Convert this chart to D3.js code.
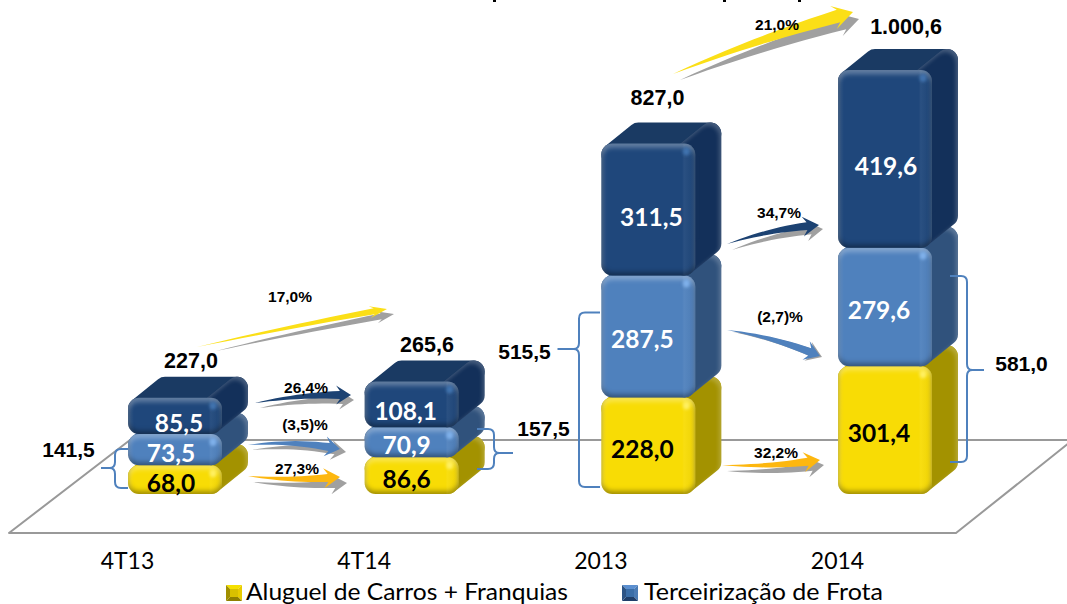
<!DOCTYPE html>
<html><head><meta charset="utf-8">
<style>html,body{margin:0;padding:0;background:#fff;overflow:hidden}svg{display:block}</style>
<script src="https://cdn.jsdelivr.net/npm/d3@7/dist/d3.min.js"></script>
</head><body><svg id="c" width="1067" height="604"></svg>
<script>
const categories = ["4T13","4T14","2013","2014"];
const aluguel = [68.0,86.6,228.0,301.4];
const terceirizacao = [73.5,70.9,287.5,279.6];
const frotaEscuro = [85.5,108.1,311.5,419.6];
const totals = [227.0,265.6,827.0,1000.6];
const groupTotals = [141.5,157.5,515.5,581.0];
const growthTotal = ["17,0%","21,0%"];
const growthEscuro = ["26,4%","34,7%"];
const growthMedio = ["(3,5)%","(2,7)%"];
const growthAluguel = ["27,3%","32,2%"];
const legendLabels = ["Aluguel de Carros + Franquias","Terceirização de Frota"];

const svg = d3.select("#c");
const W=1067;
const x = d3.scalePoint().domain(categories).range([128,838]);
const y = d3.scaleLinear().domain([0,1000.6]).range([494,70]);
const fmt = d3.formatLocale({decimal:",",thousands:".",grouping:[3],currency:["",""]}).format(",.1f");
const BODY="'Lato',sans-serif", HEAD="'Liberation Sans',Arial,sans-serif";

const defs = svg.append("defs");
defs.html(`
<filter id="bevel" filterUnits="userSpaceOnUse" x="0" y="0" width="1067" height="604" color-interpolation-filters="sRGB">
 <feGaussianBlur in="SourceAlpha" stdDeviation="2.4" result="b"/>
 <feOffset in="b" dy="3.5" result="o1"/>
 <feComposite in="SourceAlpha" in2="o1" operator="out" result="e1"/>
 <feFlood flood-color="#fff" flood-opacity=".32"/><feComposite in2="e1" operator="in" result="hi"/>
 <feOffset in="b" dy="-3.5" result="o2"/>
 <feComposite in="SourceAlpha" in2="o2" operator="out" result="e2"/>
 <feFlood flood-color="#000" flood-opacity=".36"/><feComposite in2="e2" operator="in" result="lo"/>
 <feMerge><feMergeNode in="SourceGraphic"/><feMergeNode in="hi"/><feMergeNode in="lo"/></feMerge>
</filter>
<filter id="soft" filterUnits="userSpaceOnUse" x="0" y="0" width="1067" height="604"><feGaussianBlur stdDeviation="1.6"/></filter>
<filter id="edge" filterUnits="userSpaceOnUse" x="0" y="0" width="1067" height="604" color-interpolation-filters="sRGB">
 <feGaussianBlur in="SourceAlpha" stdDeviation="2" result="b"/>
 <feOffset in="b" dx="-2" dy="3" result="o1"/>
 <feComposite in="SourceAlpha" in2="o1" operator="out" result="e1"/>
 <feFlood flood-color="#fff" flood-opacity=".22"/><feComposite in2="e1" operator="in" result="hi"/>
 <feMerge><feMergeNode in="SourceGraphic"/><feMergeNode in="hi"/></feMerge>
</filter>
<linearGradient id="band"><stop offset="0" stop-color="#fff" stop-opacity=".08"/><stop offset=".07" stop-color="#fff" stop-opacity="0"/><stop offset=".86" stop-color="#fff" stop-opacity="0"/><stop offset=".88" stop-color="#fff" stop-opacity=".05"/><stop offset="1" stop-color="#000" stop-opacity=".04"/></linearGradient>
`);

// floor
svg.append("path").attr("fill","none").attr("stroke","#999").attr("stroke-width",2)
  .attr("stroke-linejoin","round")
  .attr("d",d3.line()([[W+2,440],[130,440],[9,533],[956,533],[W+2,443]]));

// top clipped title remnants
svg.append("g").attr("stroke","#000").attr("stroke-width",2)
  .selectAll("line").data([493,723,798]).join("line")
  .attr("x1",d=>d).attr("x2",d=>d+3).attr("y1",1).attr("y2",1);

// stacked bars
const rows = categories.map((c,i)=>({c,aluguel:aluguel[i],terceirizacao:terceirizacao[i],frotaEscuro:frotaEscuro[i]}));
const stack = d3.stack().keys(["aluguel","terceirizacao","frotaEscuro"])(rows);
const palette = {
 aluguel:{front:"#f8dc05",side:"#a39200",top:"#c8b000",spot:"#fff060",text:"#000"},
 terceirizacao:{front:"#4f81bd",side:"#30527c",top:"#3c6596",spot:"#7fb0ea",text:"#fff"},
 frotaEscuro:{front:"#1f477b",side:"#13305a",top:"#1a3a63",spot:"#3f72ae",text:"#fff"}
};
const w=94,d=26,dy=21,r=11;
const poly=d3.line().curve(d3.curveLinearClosed);
stack.forEach(s=>{
  const col=palette[s.key];
  const g=svg.append("g").attr("class","series "+s.key);
  s.forEach((v,i)=>{
    const X=x(categories[i]),y0=y(v[0]),y1=y(v[1]);
    const b=g.append("g");
    const ra=Math.min(r,(y0-y1)/2);
    b.append("path").attr("d",poly([[X+ra,y1+ra],[X+ra+d,y1+ra-dy],[X+w+d-ra,y1+ra-dy],[X+w-ra,y1+ra]]))
      .attr("fill",col.top).attr("stroke",col.top).attr("stroke-width",2*ra).attr("stroke-linejoin","round");
    b.append("path").attr("d",poly([[X+w-ra,y1+ra],[X+w+d-ra,y1+ra-dy],[X+w+d-ra,y0-ra-dy],[X+w-ra,y0-ra]]))
      .attr("fill",col.side).attr("stroke",col.side).attr("stroke-width",2*ra).attr("stroke-linejoin","round")
      .attr("filter","url(#edge)");
    b.append("rect").attr("x",X).attr("y",y1).attr("width",w).attr("height",y0-y1).attr("rx",ra)
      .attr("fill",col.front).attr("filter","url(#bevel)");
    b.append("rect").attr("x",X).attr("y",y1).attr("width",w).attr("height",y0-y1).attr("rx",ra)
      .attr("fill","url(#band)");
    b.append("ellipse").attr("cx",X+w-9).attr("cy",y1+8).attr("rx",3.5).attr("ry",4)
      .attr("fill",col.spot).attr("filter","url(#soft)");
  });
});

// segment value labels
const labelDx={aluguel:[43,42,41,41],terceirizacao:[43,42,41,41],frotaEscuro:[51,41,50,48]};
const labelDy={aluguel:12,terceirizacao:12,frotaEscuro:16};
stack.forEach(s=>{
  svg.append("g").selectAll("text").data(s).join("text")
   .attr("x",(v,i)=>x(categories[i])+labelDx[s.key][i])
   .attr("y",v=>(y(v[0])+y(v[1]))/2+labelDy[s.key])
   .attr("text-anchor","middle").attr("font-family",BODY).attr("font-weight",700)
   .attr("font-size",24.5).attr("fill",palette[s.key].text)
   .text(v=>fmt(v[1]-v[0]));
});

// arrows
function arrowPts(p0,p1,bulge,tw,hl,hw){
  const mx=(p0[0]+p1[0])/2,my=(p0[1]+p1[1])/2,dx=p1[0]-p0[0],dyy=p1[1]-p0[1],L=Math.hypot(dx,dyy);
  const c=[mx+dyy/L*bulge,my-dx/L*bulge];
  const P=t=>[(1-t)*(1-t)*p0[0]+2*t*(1-t)*c[0]+t*t*p1[0],(1-t)*(1-t)*p0[1]+2*t*(1-t)*c[1]+t*t*p1[1]];
  const tE=1-hl/L,up=[],dn=[];
  const N=t=>{const a=P(t-.01),e=P(t+.01),l=Math.hypot(e[0]-a[0],e[1]-a[1]);return [-(e[1]-a[1])/l,(e[0]-a[0])/l];};
  d3.range(0,13).forEach(k=>{const t=tE*k/12,p=P(t),n=N(t),hwid=tw/2*Math.pow(k/12,0.9);
    up.push([p[0]+n[0]*hwid,p[1]+n[1]*hwid]);dn.unshift([p[0]-n[0]*hwid,p[1]-n[1]*hwid]);});
  const n=N(tE),bk=P(tE-hl*0.35/L);
  return [...up,[bk[0]+n[0]*hw,bk[1]+n[1]*hw],p1,[bk[0]-n[0]*hw,bk[1]-n[1]*hw],...dn];
}
const arrowLayer=svg.append("g");
function arrow(colr,a0,a1,g0,g1,bulge,tw,hl,hw){
  arrowLayer.append("path").attr("d",poly(arrowPts(g0,g1,bulge,tw,hl,hw))).attr("fill","#a0a0a0");
  arrowLayer.append("path").attr("d",poly(arrowPts(a0,a1,bulge,tw,hl,hw))).attr("fill",colr);
}
const YEL="#fbdf17",ORG="#fdb70f",DK="#1c4272",BL="#4f81bd";
arrow(YEL,[197,347],[387,309],[216,351],[394,314],2,6,13,6);
arrow(YEL,[673,74],[853,12],[680,80],[859,19],6,13,15,12);
arrow(DK,[255,403],[351,395],[260,408],[354,400],5,8,11,9.5);
arrow(DK,[727,244],[819,225],[732,250],[823,229],6,8,12,10);
arrow(BL,[248,445],[340,449],[252,450],[346,452],7,8,11,10);
arrow(BL,[727,330],[820,356],[733,332],[822,357],6,8,11,10);
arrow(ORG,[248,476],[340,477],[253,482],[347,483],-5,8,12,10);
arrow(ORG,[722,465],[820,460],[727,471],[824,465],-5,8,12,10);

// growth labels
const pctLayer=svg.append("g").attr("font-family",HEAD).attr("font-weight",700).attr("font-size",15.5).attr("text-anchor","middle").attr("fill","#000");
[[growthTotal[0],290,302],[growthTotal[1],777,30],[growthEscuro[0],306,393],[growthEscuro[1],779,218],
 [growthMedio[0],305,430],[growthMedio[1],780,322],[growthAluguel[0],297,474],[growthAluguel[1],776,458]]
 .forEach(p=>pctLayer.append("text").attr("x",p[1]).attr("y",p[2]).text(p[0]));

// total labels
const totPos=[[191,368],[427,352],[657.5,105],[906,34]];
svg.append("g").selectAll("text").data(totals).join("text")
  .attr("x",(v,i)=>totPos[i][0]).attr("y",(v,i)=>totPos[i][1])
  .attr("font-family",HEAD).attr("font-weight",700).attr("font-size",21.5).attr("text-anchor","middle")
  .text(v=>fmt(v));

// braces
function brace(top,spine,tip,bot,dir){
  const [tx,ty]=top,[bx,by]=bot,[px,py]=tip,k=6*dir;
  return `M${tx},${ty} L${spine+k},${ty} Q${spine},${ty} ${spine},${ty+6} L${spine},${py-6} Q${spine},${py} ${spine-k*0.9},${py}`+
         ` L${px},${py} M${spine-k*0.9},${py} Q${spine},${py} ${spine},${py+6} L${spine},${by-6} Q${spine},${by} ${spine+k},${by} L${bx},${by}`;
}
const braces=[[[128,449],115,[101,468],[128,488],1],[[477,429],494,[513,453],[477,469],-1],
 [[600,312.5],579,[557.5,349],[600,487],1],[[950,276],967,[984,370],[950,462],-1]];
svg.append("g").attr("fill","none").attr("stroke","#4f81bd").attr("stroke-width",2)
  .selectAll("path").data(braces).join("path").attr("d",b=>brace(...b));
const grpPos=[[68.5,457],[543.5,436],[524.5,359],[1021.5,371]];
svg.append("g").selectAll("text").data(groupTotals).join("text")
  .attr("x",(v,i)=>grpPos[i][0]).attr("y",(v,i)=>grpPos[i][1])
  .attr("font-family",HEAD).attr("font-weight",700).attr("font-size",21).attr("text-anchor","middle")
  .text(v=>fmt(v));

// category axis
const ax=svg.append("g").attr("transform","translate(0,553)").call(d3.axisBottom(x).tickSize(0).tickPadding(0));
ax.select(".domain").remove();
ax.selectAll("text").attr("font-family",BODY).attr("font-size",23).attr("fill","#000").attr("dy","16").attr("dx","-1");

// legend
const legendIcon=[{x:226,c:["#f5e000","#e8cc00","#8f8000","#a08f00"],m:"#d8c000"},{x:622,c:["#5b8fd0","#4a7bb5","#1f3f6a","#2c5485"],m:"#3a6ea8"}];
const legendX=[246,644],legendLen=[322,239];
legendIcon.forEach((ic,i)=>{
  const X=ic.x,Y=585,S=16,m=[X+S/2,Y+S/2];
  const a=[X,Y],b=[X+S,Y],c=[X+S,Y+S],e=[X,Y+S];
  [[a,b],[b,c],[c,e],[e,a]].forEach((p,k)=>{
    svg.append("path").attr("d",poly([p[0],p[1],m])).attr("fill",ic.c[k]);
  });
  svg.append("rect").attr("x",X+4).attr("y",Y+4).attr("width",S-8).attr("height",S-8).attr("fill",ic.m);
  svg.append("text").attr("x",legendX[i]).attr("y",599.5).attr("font-family",BODY).attr("font-size",23)
    .attr("fill","#000").attr("textLength",legendLen[i]).attr("lengthAdjust","spacingAndGlyphs").text(legendLabels[i]);
});
</script></body></html>
